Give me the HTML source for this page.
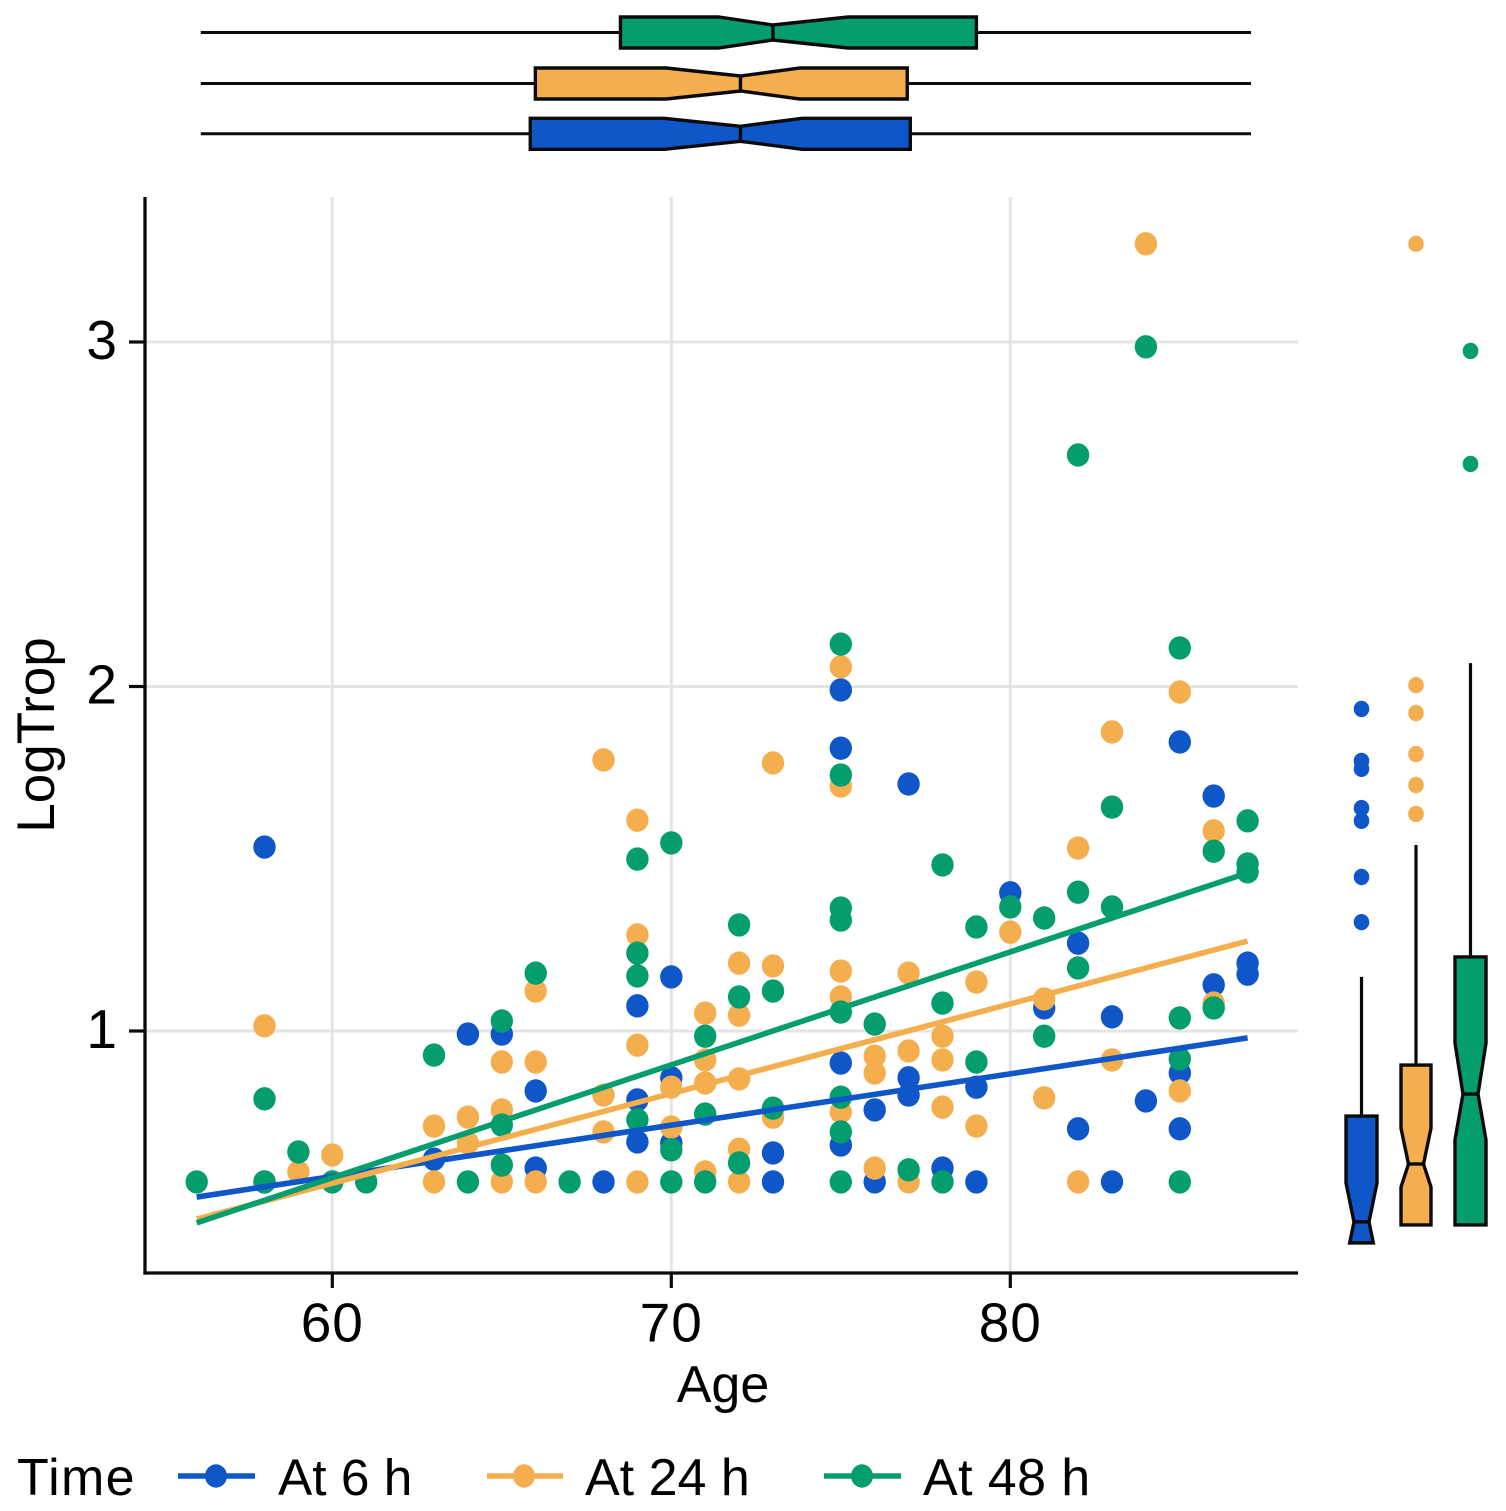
<!DOCTYPE html>
<html lang="en">
<head>
<meta charset="utf-8">
<title>LogTrop by Age and Time</title>
<style>
html,body{margin:0;padding:0;background:#fff;width:1506px;height:1511px;overflow:hidden}
svg{display:block}
text{font-family:"Liberation Sans",sans-serif;fill:#000}
</style>
</head>
<body>
<svg id="chart" xmlns="http://www.w3.org/2000/svg" width="1506" height="1511" viewBox="0 0 1506 1511">
  <rect width="1506" height="1511" fill="#fff"/>
  <g id="grid"></g>
  <g id="points"></g>
  <g id="trends"></g>
  <g id="axes"></g>
  <g id="topbox"></g>
  <g id="rightbox"></g>
  <text x="723" y="1402" font-size="52" text-anchor="middle">Age</text>
  <text transform="translate(54,735) rotate(-90)" font-size="53" text-anchor="middle">LogTrop</text>
  <g>
    <text x="17" y="1495" font-size="52" letter-spacing="1.3">Time</text>
    <g>
      <line x1="178" x2="255" y1="1476" y2="1476" stroke="#0f56c8" stroke-width="5.5"/>
      <ellipse cx="216" cy="1476" rx="11" ry="11.7" fill="#0f56c8"/>
      <text x="278" y="1495" font-size="51.4">At 6 h</text>
    </g>
    <g>
      <line x1="487" x2="563" y1="1476" y2="1476" stroke="#f5ae4e" stroke-width="5.5"/>
      <ellipse cx="524" cy="1476" rx="11" ry="11.7" fill="#f5ae4e"/>
      <text x="585" y="1495" font-size="52">At 24 h</text>
    </g>
    <g>
      <line x1="824" x2="901" y1="1476" y2="1476" stroke="#049d6e" stroke-width="5.5"/>
      <ellipse cx="862" cy="1476" rx="11" ry="11.7" fill="#049d6e"/>
      <text x="923" y="1495" font-size="52" letter-spacing="0.4">At 48 h</text>
    </g>
  </g>
</svg>
<script>
// Tick labels
const xTicks = [60, 70, 80];
const yTicks = [1, 2, 3];

// Scatter series
const blueAges = [58,58,63,64,65,66,66,68,69,69,69,70,70,70,73,73,75,75,75,75,76,76,77,77,77,78,79,79,80,81,82,82,83,83,84,85,85,85,86,86,87,87];
const blueValues = [1.534,.562,.628,.991,.991,.826,.602,.562,1.073,.800,.678,1.157,.864,.675,.646,.562,1.990,1.821,.907,.669,.771,.562,1.717,.864,.814,.602,.837,.562,1.401,1.067,1.255,.716,1.041,.562,.797,1.839,.878,.716,1.682,1.134,1.197,1.165];

const orangeAges = [58,59,60,63,63,64,64,65,65,65,66,66,66,68,68,68,69,69,69,69,70,70,71,71,71,71,72,72,72,72,72,73,73,73,75,75,75,75,75,76,76,76,77,77,77,78,78,78,79,79,80,81,81,82,82,83,83,84,85,85,86,86];
const orangeValues = [1.015,.591,.640,.724,.562,.750,.675,.910,.771,.562,1.116,.910,.562,1.787,.814,.707,1.612,1.279,.959,.562,.837,.721,1.052,.916,.849,.591,1.197,1.046,.861,.657,.562,1.778,1.189,.750,2.057,1.711,1.174,1.099,.765,.927,.878,.602,1.168,.942,.562,.985,.916,.779,1.142,.724,1.287,1.093,.806,1.531,.562,1.868,.916,3.285,1.984,.826,1.581,1.081];

const greenAges = [56,58,58,59,60,61,63,64,65,65,65,66,67,69,69,69,69,70,70,70,71,71,71,72,72,72,73,73,75,75,75,75,75,75,75,75,76,77,78,78,78,79,79,80,81,81,82,82,82,83,83,84,85,85,85,85,86,86,87,87,87];
const greenValues = [.562,.803,.562,.649,.562,.562,.930,.562,1.029,.727,.611,1.168,.562,1.499,1.226,1.160,.742,1.546,.655,.562,.985,.759,.562,1.308,1.099,.617,1.116,.776,2.123,1.743,1.357,1.322,1.055,.808,.707,.562,1.020,.597,1.482,1.081,.562,1.302,.910,1.360,1.328,.985,2.672,1.403,1.183,1.650,1.360,2.986,2.112,1.038,.919,.562,1.522,1.067,1.610,1.485,1.462];

// Linear trend read at the ends of the age range
const trendAges = [56, 87];
const blueTrend = [.518, .980];
const orangeTrend = [.454, 1.261];
const greenTrend = [.443, 1.459];

// Top boxplots (age): whisker low, q1, notch low, median, notch high, q3, whisker high
const blueAgeBox = [56.12, 65.84, 69.79, 72.04, 73.86, 77.05, 87.1];
const orangeAgeBox = [56.12, 65.99, 69.85, 72.04, 73.80, 76.96, 87.1];
const greenAgeBox = [56.12, 68.50, 71.39, 73.00, 75.22, 79.00, 87.1];

// Right boxplots (LogTrop): q1, notch low, median, notch high, q3, whisker high
const blueTropBox = [.385, .385, .446, .559, .753, 1.157];
const orangeTropBox = [.437, .547, .614, .718, .901, 1.540];
const greenTropBox = [.437, .684, .817, .965, 1.215, 2.068];

// Right boxplot outliers
const blueOutliers = [1.935, 1.784, 1.761, 1.647, 1.610, 1.447, 1.316];
const orangeOutliers = [3.285, 2.004, 1.923, 1.804, 1.714, 1.630];
const greenOutliers = [2.974, 2.646];

const NS = 'http://www.w3.org/2000/svg';
const COLORS = {blue:'#0f56c8', orange:'#f5ae4e', green:'#049d6e'};
const INK = '#0a0a0a';
const PLOT = {left:145, right:1298, top:197, bottom:1273};

function xScale(age){ return 332.3 + (age - 60) * 33.9; }
function yScale(v){ return 1031 - (v - 1) * 344.5; }

function make(parent, tag, attrs){
  const el = document.createElementNS(NS, tag);
  for (const k in attrs) el.setAttribute(k, attrs[k]);
  parent.appendChild(el);
  return el;
}
const gridG = document.getElementById('grid');
const pointsG = document.getElementById('points');
const trendsG = document.getElementById('trends');
const axesG = document.getElementById('axes');
const topG = document.getElementById('topbox');
const rightG = document.getElementById('rightbox');

// Grid, ticks and tick labels
xTicks.forEach(function(t){
  const x = xScale(t);
  const g = make(gridG, 'line', {x1:x, x2:x, y1:PLOT.top, y2:PLOT.bottom, stroke:'#e4e4e4', 'stroke-width':3});
  
  
  const tk = make(axesG, 'line', {x1:x, x2:x, y1:PLOT.bottom, y2:PLOT.bottom + 15, stroke:INK, 'stroke-width':3.2});
  
  
  const lb = make(axesG, 'text', {x:x, y:1341.5, 'font-size':55, 'letter-spacing':1, 'text-anchor':'middle'});
  
  
  lb.textContent = t;
});
yTicks.forEach(function(t){
  const y = yScale(t);
  const g = make(gridG, 'line', {x1:PLOT.left, x2:PLOT.right, y1:y, y2:y, stroke:'#e4e4e4', 'stroke-width':3});
  
  
  const tk = make(axesG, 'line', {x1:PLOT.left - 16, x2:PLOT.left, y1:y, y2:y, stroke:INK, 'stroke-width':3.2});
  
  
  const lb = make(axesG, 'text', {x:117, y:y + 17, 'font-size':55, 'text-anchor':'end'});
  
  
  lb.textContent = t;
});
const yAxisLine = make(axesG, 'line', {x1:PLOT.left, x2:PLOT.left, y1:PLOT.top, y2:PLOT.bottom + 1.6, stroke:INK, 'stroke-width':3.3});


const xAxisLine = make(axesG, 'line', {x1:PLOT.left - 1.6, x2:PLOT.right, y1:PLOT.bottom, y2:PLOT.bottom, stroke:INK, 'stroke-width':3.3});



// Scatter points
function drawPoints(ages, values, color){
  ages.forEach(function(a, i){
    const p = make(pointsG, 'ellipse', {cx:xScale(a), cy:yScale(values[i]), rx:11.2, ry:11.7, fill:color});
    
    
  });
}
drawPoints(blueAges, blueValues, COLORS.blue);
drawPoints(orangeAges, orangeValues, COLORS.orange);
drawPoints(greenAges, greenValues, COLORS.green);

// Trend lines
function drawTrend(values, color){
  const l = make(trendsG, 'line', {x1:xScale(trendAges[0]), y1:yScale(values[0]), x2:xScale(trendAges[1]), y2:yScale(values[1]), stroke:color, 'stroke-width':5.6});
  
  
}
drawTrend(blueTrend, COLORS.blue);
drawTrend(orangeTrend, COLORS.orange);
drawTrend(greenTrend, COLORS.green);

// Top horizontal notched boxplots
function drawTopBox(box, cy, color){
  const h = 15.5, w = 7.5;
  const wh = make(topG, 'line', {x1:xScale(box[0]), x2:xScale(box[6]), y1:cy, y2:cy, stroke:INK, 'stroke-width':3});
  
  
  const q1 = xScale(box[1]), nl = xScale(box[2]), m = xScale(box[3]), nh = xScale(box[4]), q3 = xScale(box[5]);
  const pts = [[q1,cy-h],[nl,cy-h],[m,cy-w],[nh,cy-h],[q3,cy-h],[q3,cy+h],[nh,cy+h],[m,cy+w],[nl,cy+h],[q1,cy+h]];
  const b = make(topG, 'polygon', {points:pts.map(function(p){return p.join(',');}).join(' '), fill:color, stroke:INK, 'stroke-width':3.4, 'stroke-linejoin':'miter'});
  
  
  const md = make(topG, 'line', {x1:m, x2:m, y1:cy-w, y2:cy+w, stroke:INK, 'stroke-width':3.4});
  
  
}
drawTopBox(greenAgeBox, 32.5, COLORS.green);
drawTopBox(orangeAgeBox, 83.5, COLORS.orange);
drawTopBox(blueAgeBox, 133.8, COLORS.blue);

// Right vertical notched boxplots
function drawRightBox(box, outliers, cx, halfW, color){
  const waist = 7.5;
  const wh = make(rightG, 'line', {x1:cx, x2:cx, y1:yScale(box[5]), y2:yScale(box[4]), stroke:INK, 'stroke-width':3.2});
  
  
  const q1 = yScale(box[0]), nl = yScale(box[1]), m = yScale(box[2]), nh = yScale(box[3]), q3 = yScale(box[4]);
  let pts;
  if (box[0] === box[1]) {
    const bw = waist + (halfW - waist) * (q1 - m) / (m - nh);
    pts = [[cx-halfW,q3],[cx+halfW,q3],[cx+halfW,nh],[cx+waist,m],[cx+bw,q1],[cx-bw,q1],[cx-waist,m],[cx-halfW,nh]];
  } else {
    pts = [[cx-halfW,q3],[cx+halfW,q3],[cx+halfW,nh],[cx+waist,m],[cx+halfW,nl],[cx+halfW,q1],[cx-halfW,q1],[cx-halfW,nl],[cx-waist,m],[cx-halfW,nh]];
  }
  const b = make(rightG, 'polygon', {points:pts.map(function(p){return p.join(',');}).join(' '), fill:color, stroke:INK, 'stroke-width':3.4, 'stroke-linejoin':'miter'});
  
  
  const md = make(rightG, 'line', {x1:cx-waist, x2:cx+waist, y1:m, y2:m, stroke:INK, 'stroke-width':3.4});
  
  
  outliers.forEach(function(v){
    const o = make(rightG, 'ellipse', {cx:cx, cy:yScale(v), rx:7.8, ry:8.2, fill:color});
    
    
  });
}
drawRightBox(blueTropBox, blueOutliers, 1361.5, 15.5, COLORS.blue);
drawRightBox(orangeTropBox, orangeOutliers, 1416, 15, COLORS.orange);
drawRightBox(greenTropBox, greenOutliers, 1470.5, 15.5, COLORS.green);
</script>
</body>
</html>
